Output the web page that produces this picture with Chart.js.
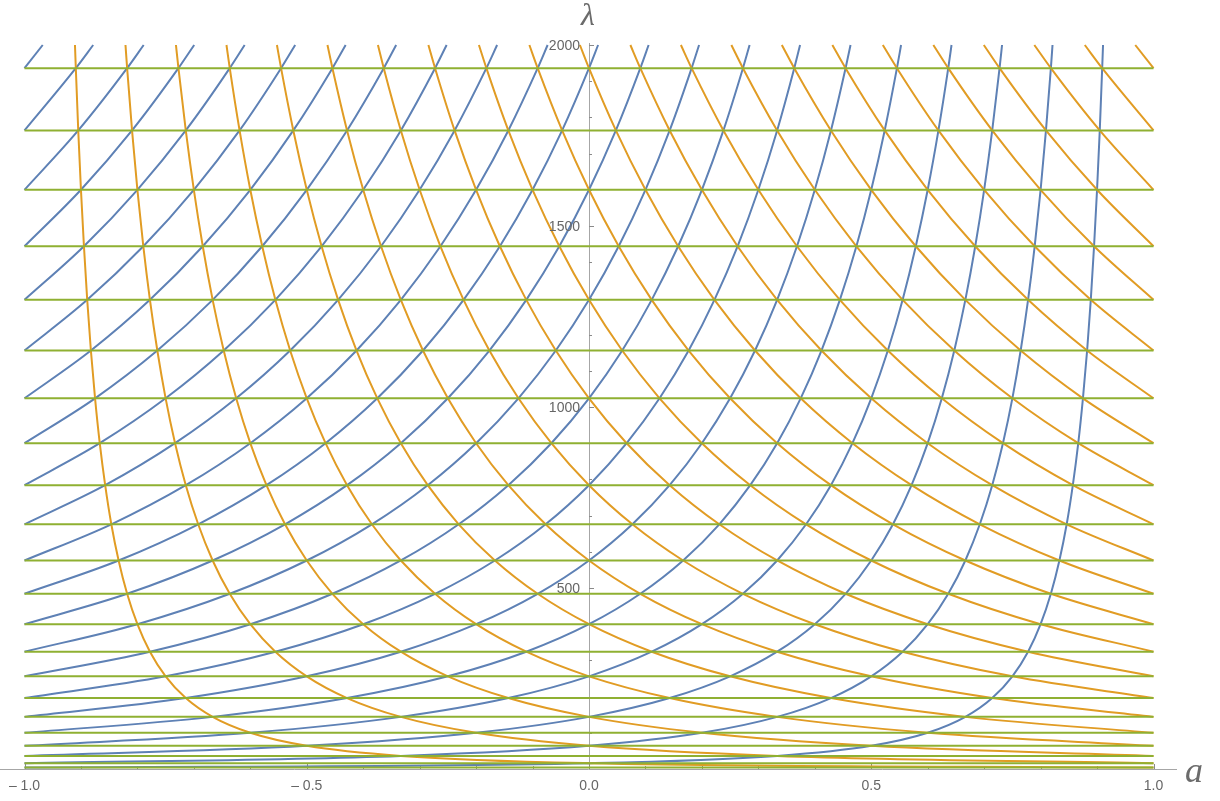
<!DOCTYPE html>
<html>
<head>
<meta charset="utf-8">
<script src="https://cdn.jsdelivr.net/npm/chart.js@4/dist/chart.umd.min.js"></script>
<style>
  html, body { margin: 0; padding: 0; background: #fff; }
  #wrap { position: relative; width: 1220px; height: 801px; }
</style>
</head>
<body>
<div id="wrap"><canvas id="plot"></canvas></div>
<script>
// horizontal levels (green), lambda values
var greenLevels = [4,16,36,64,100,144,196,256,324,400,484,576,676,784,900,1024,1156,1296,1444,1600,1764,1936];
// lambda where curves leave the top of the frame
var topLambda = 2000;

// blue family: a positions where curve k meets greenLevels[k-1], greenLevels[k], ... and then the top edge
var blueA = [
  [-1,0,.3333,.5,.6,.6667,.7143,.75,.7778,.8,.8182,.8333,.8462,.8571,.8667,.875,.8824,.8889,.8947,.9,.9048,.9091,.9106],
  [-1,-.3333,0,.2,.3333,.4286,.5,.5556,.6,.6364,.6667,.6923,.7143,.7333,.75,.7647,.7778,.7895,.8,.8095,.8182,.8211],
  [-1,-.5,-.2,0,.1429,.25,.3333,.4,.4545,.5,.5385,.5714,.6,.625,.6471,.6667,.6842,.7,.7143,.7273,.7317],
  [-1,-.6,-.3333,-.1429,0,.1111,.2,.2727,.3333,.3846,.4286,.4667,.5,.5294,.5556,.5789,.6,.619,.6364,.6422],
  [-1,-.6667,-.4286,-.25,-.1111,0,.0909,.1667,.2308,.2857,.3333,.375,.4118,.4444,.4737,.5,.5238,.5455,.5528],
  [-1,-.7143,-.5,-.3333,-.2,-.0909,0,.0769,.1429,.2,.25,.2941,.3333,.3684,.4,.4286,.4545,.4633],
  [-1,-.75,-.5556,-.4,-.2727,-.1667,-.0769,0,.0667,.125,.1765,.2222,.2632,.3,.3333,.3636,.3739],
  [-1,-.7778,-.6,-.4545,-.3333,-.2308,-.1429,-.0667,0,.0588,.1111,.1579,.2,.2381,.2727,.2845],
  [-1,-.8,-.6364,-.5,-.3846,-.2857,-.2,-.125,-.0588,0,.0526,.1,.1429,.1818,.195],
  [-1,-.8182,-.6667,-.5385,-.4286,-.3333,-.25,-.1765,-.1111,-.0526,0,.0476,.0909,.1056],
  [-1,-.8333,-.6923,-.5714,-.4667,-.375,-.2941,-.2222,-.1579,-.1,-.0476,0,.0161],
  [-1,-.8462,-.7143,-.6,-.5,-.4118,-.3333,-.2632,-.2,-.1429,-.0909,-.0733],
  [-1,-.8571,-.7333,-.625,-.5294,-.4444,-.3684,-.3,-.2381,-.1818,-.1628],
  [-1,-.8667,-.75,-.6471,-.5556,-.4737,-.4,-.3333,-.2727,-.2522],
  [-1,-.875,-.7647,-.6667,-.5789,-.5,-.4286,-.3636,-.3416],
  [-1,-.8824,-.7778,-.6842,-.6,-.5238,-.4545,-.4311],
  [-1,-.8889,-.7895,-.7,-.619,-.5455,-.5205],
  [-1,-.8947,-.8,-.7143,-.6364,-.61],
  [-1,-.9,-.8095,-.7273,-.6994],
  [-1,-.9048,-.8182,-.7889],
  [-1,-.9091,-.8783],
  [-1,-.9677]
];

// orange family: same crossings seen from the right side
var orangeA = [
  [1,0,-.3333,-.5,-.6,-.6667,-.7143,-.75,-.7778,-.8,-.8182,-.8333,-.8462,-.8571,-.8667,-.875,-.8824,-.8889,-.8947,-.9,-.9048,-.9091,-.9106],
  [1,.3333,0,-.2,-.3333,-.4286,-.5,-.5556,-.6,-.6364,-.6667,-.6923,-.7143,-.7333,-.75,-.7647,-.7778,-.7895,-.8,-.8095,-.8182,-.8211],
  [1,.5,.2,0,-.1429,-.25,-.3333,-.4,-.4545,-.5,-.5385,-.5714,-.6,-.625,-.6471,-.6667,-.6842,-.7,-.7143,-.7273,-.7317],
  [1,.6,.3333,.1429,0,-.1111,-.2,-.2727,-.3333,-.3846,-.4286,-.4667,-.5,-.5294,-.5556,-.5789,-.6,-.619,-.6364,-.6422],
  [1,.6667,.4286,.25,.1111,0,-.0909,-.1667,-.2308,-.2857,-.3333,-.375,-.4118,-.4444,-.4737,-.5,-.5238,-.5455,-.5528],
  [1,.7143,.5,.3333,.2,.0909,0,-.0769,-.1429,-.2,-.25,-.2941,-.3333,-.3684,-.4,-.4286,-.4545,-.4633],
  [1,.75,.5556,.4,.2727,.1667,.0769,0,-.0667,-.125,-.1765,-.2222,-.2632,-.3,-.3333,-.3636,-.3739],
  [1,.7778,.6,.4545,.3333,.2308,.1429,.0667,0,-.0588,-.1111,-.1579,-.2,-.2381,-.2727,-.2845],
  [1,.8,.6364,.5,.3846,.2857,.2,.125,.0588,0,-.0526,-.1,-.1429,-.1818,-.195],
  [1,.8182,.6667,.5385,.4286,.3333,.25,.1765,.1111,.0526,0,-.0476,-.0909,-.1056],
  [1,.8333,.6923,.5714,.4667,.375,.2941,.2222,.1579,.1,.0476,0,-.0161],
  [1,.8462,.7143,.6,.5,.4118,.3333,.2632,.2,.1429,.0909,.0733],
  [1,.8571,.7333,.625,.5294,.4444,.3684,.3,.2381,.1818,.1628],
  [1,.8667,.75,.6471,.5556,.4737,.4,.3333,.2727,.2522],
  [1,.875,.7647,.6667,.5789,.5,.4286,.3636,.3416],
  [1,.8824,.7778,.6842,.6,.5238,.4545,.4311],
  [1,.8889,.7895,.7,.619,.5455,.5205],
  [1,.8947,.8,.7143,.6364,.61],
  [1,.9,.8095,.7273,.6994],
  [1,.9048,.8182,.7889],
  [1,.9091,.8783],
  [1,.9677]
];

// ticks
var xMajorTicks = [-1, -0.5, 0, 0.5, 1];
var xTickLabels = ['\u2013 1.0', '\u2013 0.5', '0.0', '0.5', '1.0'];
var xMinorTicks = [-0.9,-0.8,-0.7,-0.6,-0.4,-0.3,-0.2,-0.1,0.1,0.2,0.3,0.4,0.6,0.7,0.8,0.9];
var yMajorTicks = [500, 1000, 1500, 2000];
var yTickLabels = ['500', '1000', '1500', '2000'];
var yMinorTicks = [100,200,300,400,600,700,800,900,1100,1200,1300,1400,1600,1700,1800,1900];

var BLUE = '#5E81B5', ORANGE = '#E19C24', GREEN = '#8FB032';

function curvePoints(xs, k) {
  var pts = [];
  for (var i = 0; i < xs.length; i++) {
    var lam = (k - 1 + i < greenLevels.length) ? greenLevels[k - 1 + i] : topLambda;
    pts.push({x: xs[i], y: lam});
  }
  return pts;
}

var datasets = [];
for (var g = 0; g < greenLevels.length; g++) {
  datasets.push({
    data: [{x: -1, y: greenLevels[g]}, {x: 1, y: greenLevels[g]}],
    borderColor: GREEN, borderWidth: 2, order: 0
  });
}
for (var k = 1; k <= orangeA.length; k++) {
  datasets.push({data: curvePoints(orangeA[k - 1], k), borderColor: ORANGE, borderWidth: 2, order: 1});
}
for (var k = 1; k <= blueA.length; k++) {
  datasets.push({data: curvePoints(blueA[k - 1], k), borderColor: BLUE, borderWidth: 2, order: 2});
}
datasets.forEach(function(d) {
  d.showLine = true;
  d.pointRadius = 0;
  d.fill = false;
  d.cubicInterpolationMode = 'monotone';
  d.clip = 2;
});

// Mathematica-style axes through the origin
var axesPlugin = {
  id: 'axes',
  beforeDatasetsDraw: function(chart) {
    var ctx = chart.ctx, xs = chart.scales.x, ys = chart.scales.y;
    var x0 = xs.getPixelForValue(0), y0 = ys.getPixelForValue(0);
    ctx.save();
    ctx.strokeStyle = '#a6a6a6';
    ctx.lineWidth = 1;
    ctx.beginPath();
    ctx.moveTo(0, y0 + 0.5); ctx.lineTo(1177, y0 + 0.5);
    ctx.moveTo(Math.round(x0) + 0.5, y0); ctx.lineTo(Math.round(x0) + 0.5, ys.getPixelForValue(2000) - 2);
    ctx.stroke();
    ctx.strokeStyle = '#8a8a8a';
    ctx.beginPath();
    xMajorTicks.forEach(function(v) {
      var px = Math.round(xs.getPixelForValue(v)) + 0.5;
      ctx.moveTo(px, y0); ctx.lineTo(px, y0 - 5);
    });
    xMinorTicks.forEach(function(v) {
      var px = Math.round(xs.getPixelForValue(v)) + 0.5;
      ctx.moveTo(px, y0); ctx.lineTo(px, y0 - 3);
    });
    yMajorTicks.forEach(function(v) {
      var py = Math.round(ys.getPixelForValue(v)) + 0.5;
      ctx.moveTo(x0, py); ctx.lineTo(x0 + 5, py);
    });
    yMinorTicks.forEach(function(v) {
      var py = Math.round(ys.getPixelForValue(v)) + 0.5;
      ctx.moveTo(x0, py); ctx.lineTo(x0 + 3, py);
    });
    ctx.stroke();
    ctx.restore();
  },
  afterDraw: function(chart) {
    var ctx = chart.ctx, xs = chart.scales.x, ys = chart.scales.y;
    var x0 = xs.getPixelForValue(0), y0 = ys.getPixelForValue(0);
    ctx.save();
    ctx.fillStyle = '#666';
    ctx.font = '14px "Liberation Sans", Arial, sans-serif';
    ctx.textAlign = 'center';
    ctx.textBaseline = 'middle';
    xMajorTicks.forEach(function(v, i) {
      ctx.fillText(xTickLabels[i], xs.getPixelForValue(v), y0 + 17);
    });
    ctx.textAlign = 'right';
    yMajorTicks.forEach(function(v, i) {
      ctx.fillText(yTickLabels[i], x0 - 9, ys.getPixelForValue(v) + 1);
    });
    ctx.fillStyle = '#6b6b6b';
    ctx.font = 'italic 32px "Liberation Serif", "DejaVu Serif", serif';
    ctx.textAlign = 'center';
    ctx.textBaseline = 'alphabetic';
    ctx.fillText('\u03bb', x0 - 1, 25);
    ctx.font = 'italic 36px "Liberation Serif", "DejaVu Serif", serif';
    ctx.textAlign = 'left';
    ctx.fillText('a', 1185, y0 + 13);
    ctx.restore();
  }
};

new Chart(document.getElementById('plot'), {
  type: 'scatter',
  data: {datasets: datasets},
  options: {
    responsive: true,
    maintainAspectRatio: false,
    animation: false,
    layout: {padding: {left: 24.5, right: 66.5, top: 45, bottom: 32}},
    plugins: {legend: {display: false}, tooltip: {enabled: false}},
    events: [],
    scales: {
      x: {type: 'linear', min: -1, max: 1, display: false},
      y: {type: 'linear', min: 0, max: 2000, display: false}
    }
  },
  plugins: [axesPlugin]
});
</script>
</body>
</html>
